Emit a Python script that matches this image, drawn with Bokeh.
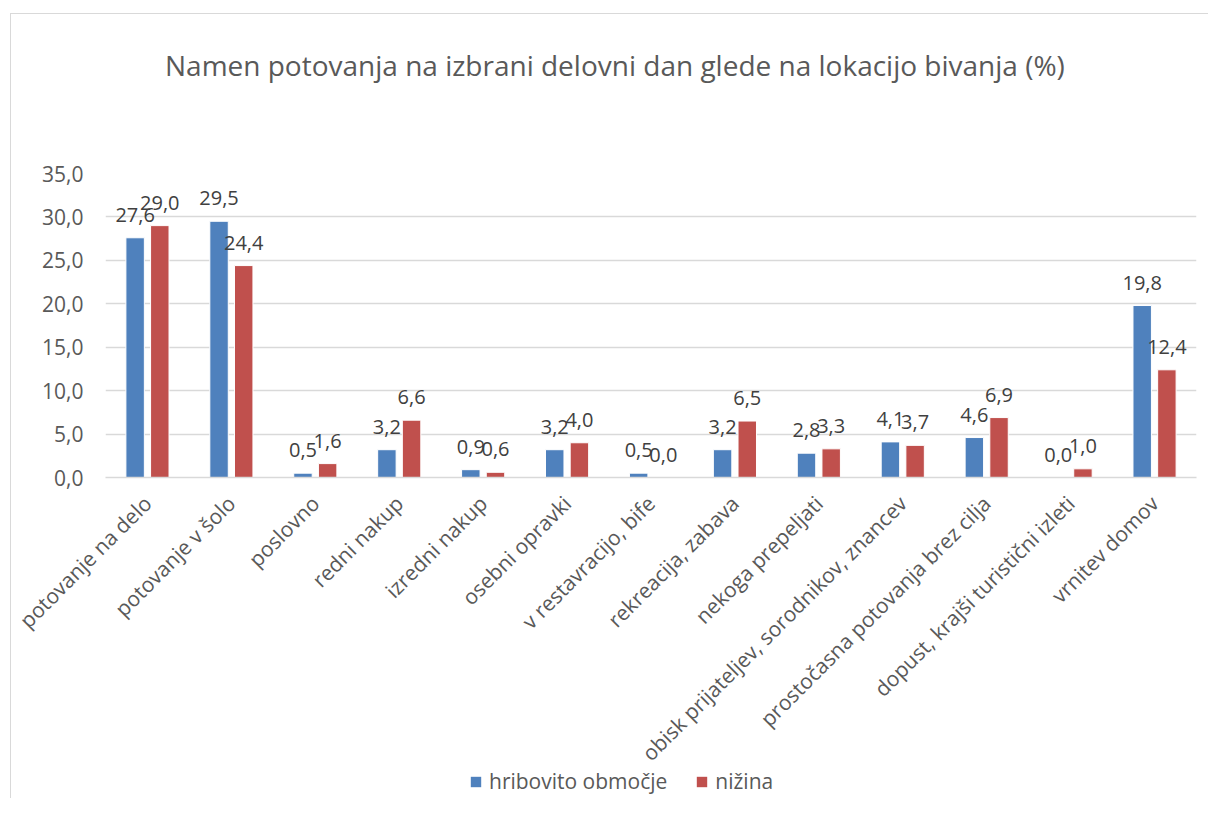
import math
from bokeh.plotting import figure
from bokeh.layouts import column
from bokeh.models import ColumnDataSource, Legend, LegendItem, FixedTicker, Range1d, Label
from bokeh.transform import dodge
from bokeh.core.properties import value
from bokeh.embed import file_html
from bokeh.resources import INLINE

categories = [
    "potovanje na delo", "potovanje v šolo", "poslovno", "redni nakup",
    "izredni nakup", "osebni opravki", "v restavracijo, bife",
    "rekreacija, zabava", "nekoga prepeljati",
    "obisk prijateljev, sorodnikov, znancev",
    "prostočasna potovanja brez cilja", "dopust, krajši turistični izleti",
    "vrnitev domov",
]
hribovito = [27.6, 29.5, 0.5, 3.2, 0.9, 3.2, 0.5, 3.2, 2.8, 4.1, 4.6, 0.0, 19.8]
nizina = [29.0, 24.4, 1.6, 6.6, 0.6, 4.0, 0.0, 6.5, 3.3, 3.7, 6.9, 1.0, 12.4]
y_ticks = [0, 5, 10, 15, 20, 25, 30, 35]
y_tick_labels = ["0,0", "5,0", "10,0", "15,0", "20,0", "25,0", "30,0", "35,0"]
series_names = ["hribovito območje", "nižina"]

TITLE = "Namen potovanja na izbrani delovni dan glede na lokacijo bivanja (%)"
FONT = "Open Sans"
BLUE = "#4F81BD"
RED = "#C0504D"
GRID = "#D9D9D9"
W_ALL = 1197
L_BORDER = 94
R_BORDER = 12

def fmt(v):
    return f"{v:.1f}".replace(".", ",")

xs = list(range(len(categories)))
src = ColumnDataSource(dict(
    x=xs, hrib=hribovito, niz=nizina,
    hrib_lbl=[fmt(v) for v in hribovito], niz_lbl=[fmt(v) for v in nizina],
))

def strip(height, x_range, y_range, **kw):
    f = figure(width=W_ALL, height=height, output_backend="svg", toolbar_location=None,
               x_range=x_range, y_range=y_range,
               min_border_left=L_BORDER, min_border_right=R_BORDER,
               min_border_top=0, min_border_bottom=0, **kw)
    f.axis.visible = False
    f.grid.visible = False
    f.outline_line_color = None
    f.background_fill_alpha = 0
    f.border_fill_alpha = 0
    return f

# ---- title strip
t = strip(100, Range1d(-0.5, len(categories) - 0.5), Range1d(0, 1))
t.add_layout(Label(x=5.57, y=0.50, text=TITLE, text_align="center", text_baseline="middle",
                   text_font=FONT, text_font_size="28px", text_color="#595959"))

# ---- main chart
p = figure(width=W_ALL, height=665, output_backend="svg", toolbar_location=None,
           x_range=Range1d(-0.5, len(categories) - 0.5), y_range=Range1d(0, 35),
           min_border_left=L_BORDER, min_border_right=R_BORDER,
           min_border_top=59, min_border_bottom=302)
p.outline_line_color = None
p.background_fill_color = "white"
p.border_fill_color = "white"

OFF = 0.147
W = 0.22
b1 = p.vbar(x=dodge("x", -OFF, range=p.x_range), top="hrib", width=W, source=src,
            fill_color=BLUE, line_color="white", line_width=1)
b2 = p.vbar(x=dodge("x", OFF, range=p.x_range), top="niz", width=W, source=src,
            fill_color=RED, line_color="white", line_width=1)

p.text(x=dodge("x", -OFF, range=p.x_range), y="hrib", text="hrib_lbl", source=src,
       text_align="center", text_baseline="alphabetic", y_offset=-23,
       text_font=value(FONT), text_font_size="20px", text_color="#404040")
p.text(x=dodge("x", OFF, range=p.x_range), y="niz", text="niz_lbl", source=src,
       text_align="center", text_baseline="alphabetic", y_offset=-23,
       text_font=value(FONT), text_font_size="20px", text_color="#404040")

p.xaxis.ticker = FixedTicker(ticks=xs)
p.xaxis.major_label_overrides = {i: c for i, c in zip(xs, categories)}
p.xaxis.major_label_orientation = math.pi / 4
p.xaxis.major_tick_line_color = None
p.xaxis.minor_tick_line_color = None
p.xaxis.axis_line_color = GRID
p.xaxis.axis_line_width = 1.5
p.xaxis.major_label_text_font = FONT
p.xaxis.major_label_text_font_size = "21px"
p.xaxis.major_label_text_color = "#595959"
p.xaxis.major_label_standoff = 16

p.yaxis.ticker = FixedTicker(ticks=y_ticks)
p.yaxis.major_label_overrides = {t_: l for t_, l in zip(y_ticks, y_tick_labels)}
p.yaxis.axis_line_color = None
p.yaxis.major_tick_line_color = None
p.yaxis.minor_tick_line_color = None
p.yaxis.major_label_text_font = FONT
p.yaxis.major_label_text_font_size = "21px"
p.yaxis.major_label_text_color = "#595959"
p.yaxis.major_label_standoff = 16

p.xgrid.grid_line_color = None
p.ygrid.grid_line_color = GRID
p.ygrid.grid_line_width = 1.5

# ---- legend strip (separate figure so the legend is not clipped by the plot frame);
# its ranges keep the bars out of view, only the legend swatches show
lg = strip(31, Range1d(100, 101), Range1d(100, 101), margin=(-12, 0, 0, 0))
r1 = lg.vbar(x="x", top="hrib", width=W, source=src, fill_color=BLUE, line_color=None)
r2 = lg.vbar(x="x", top="niz", width=W, source=src, fill_color=RED, line_color=None)
legend = Legend(items=[LegendItem(label=series_names[0], renderers=[r1]),
                       LegendItem(label=series_names[1], renderers=[r2])],
                orientation="horizontal", location=(364, 3),
                padding=0, margin=0, spacing=28, glyph_width=13, glyph_height=13,
                label_standoff=7, border_line_color=None, background_fill_alpha=0,
                label_text_font=FONT, label_text_font_size="21px", label_text_color="#595959")
lg.add_layout(legend)

layout = column(t, p, lg, spacing=0, margin=(13, 0, 0, 10),
                styles={"border": "1px solid #D9D9D9", "border-bottom": "none",
                        "border-right": "none"})

open("out.html", "w").write(file_html(layout, INLINE))
